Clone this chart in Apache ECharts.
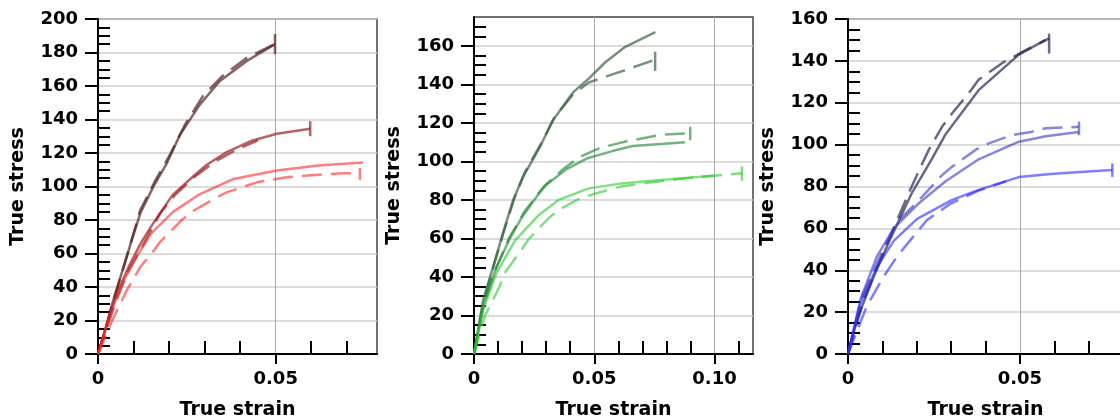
<!DOCTYPE html>
<html>
<head>
<meta charset="utf-8">
<script src="https://cdn.jsdelivr.net/npm/echarts@6/dist/echarts.min.js"></script>
<style>
  html, body { margin: 0; padding: 0; background: #fff; }
  #chart { width: 1120px; height: 420px; }
</style>
</head>
<body>
<div id="chart"></div>
<script>
// ---- data: [strain, stress] ----
// panel 1 (red)
const redSolidA = [[0,0],[0.002,14],[0.004,30],[0.0072,52],[0.0095,68],[0.0119,84],[0.0156,100],[0.0194,114],[0.0231,131],[0.0287,149],[0.0343,163],[0.0419,175],[0.0498,185]]
const redDashA = [[0,0],[0.002,14],[0.0045,33],[0.0078,56],[0.0119,86],[0.016,103],[0.0205,120],[0.0245,137],[0.0295,154],[0.035,166],[0.042,177],[0.0498,185]]
const redSolidB = [[0,0],[0.0025,18],[0.0053,36],[0.0086,52],[0.012,66],[0.0155,78],[0.021,95],[0.0273,107],[0.0306,113],[0.0362,120.5],[0.0428,127],[0.0503,131.5],[0.0597,134.5]]
const redDashB = [[0,0],[0.0025,16],[0.0055,34],[0.0086,50],[0.0124,64],[0.0175,84],[0.0217,95],[0.0273,106],[0.033,115],[0.039,122],[0.045,127.5]]
const redSolidC = [[0,0],[0.003,21],[0.0065,41],[0.0114,60],[0.015,72],[0.0212,85],[0.0287,95.5],[0.0381,104.5],[0.0503,109.5],[0.062,112.5],[0.0746,114.3]]
const redDashC = [[0,0],[0.004,20],[0.0081,38],[0.0119,52],[0.0151,60],[0.0175,67],[0.0236,80],[0.0264,85],[0.0334,93.5],[0.0362,96.5],[0.0447,102.5],[0.048,103.8],[0.053,105.5],[0.06,106.7],[0.069,107.9],[0.0737,108]]
// end bars: [strain, low, high]
const redBars = [[0.0498,179,191],[0.0597,130,139],[0.0737,104,111]]

// panel 2 (green)
const greenSolidA = [[0,0],[0.0038,28],[0.0079,45],[0.0121,63],[0.0163,80],[0.0204,92],[0.0274,107.5],[0.0329,121.5],[0.0413,136],[0.0477,143],[0.0546,151.5],[0.0629,159.5],[0.0754,167.2]]
const greenDashA = [[0,0],[0.004,27],[0.0082,46],[0.0125,64],[0.0168,81],[0.021,94],[0.028,109.5],[0.0335,123],[0.0413,135],[0.0477,141],[0.0588,145.7],[0.0629,147.4],[0.0748,152.6]]
const greenSolidB = [[0,0],[0.0038,25],[0.0093,45],[0.0149,60],[0.0199,71],[0.0268,83],[0.0302,88],[0.0385,96],[0.0468,101.5],[0.0579,105.5],[0.066,108],[0.0878,110]]
const greenDashB = [[0,0],[0.0038,24],[0.009,44],[0.0145,60],[0.021,74],[0.029,87],[0.0375,96.5],[0.0441,102.4],[0.0524,107],[0.0635,110.5],[0.0788,114],[0.0899,114.6]]
const greenSolidC = [[0,0],[0.0038,23],[0.0093,42],[0.0171,59],[0.0268,72],[0.0352,80],[0.0477,86],[0.0615,88.6],[0.069,89.5],[0.0857,91.2],[0.0996,92.5]]
const greenDashC = [[0,0],[0.0046,20],[0.0108,35.5],[0.0122,41],[0.0199,54.4],[0.0227,59.6],[0.031,70.5],[0.0352,74.8],[0.0442,80.9],[0.051,83.5],[0.0607,86.9],[0.076,89.5],[0.094,92],[0.1114,93.8]]
const greenBars = [[0.0753,147,157],[0.0899,111,118],[0.1114,90,97.5]]

// panel 3 (blue)
const blueSolidA = [[0,0],[0.0026,16.4],[0.0075,37],[0.0123,55],[0.0186,77],[0.024,92],[0.0284,105],[0.038,126],[0.0497,143],[0.0575,150]]
const blueDashA = [[0,0],[0.0046,26],[0.0094,45],[0.0143,64],[0.0177,77],[0.0216,91],[0.0235,97.5],[0.0274,108.6],[0.0303,115],[0.0351,124.5],[0.038,131],[0.0449,139],[0.051,144.5],[0.0585,150.8]]
const blueSolidB = [[0,0],[0.0036,26],[0.0084,46.6],[0.0133,60],[0.0206,72],[0.0284,82.5],[0.038,93],[0.0497,101.4],[0.0575,104],[0.0672,106]]
const blueDashB = [[0,0],[0.004,27],[0.0094,47],[0.0143,63],[0.0216,75.2],[0.0274,85.5],[0.0303,89.5],[0.0371,97.5],[0.04,100],[0.0478,104.6],[0.0536,106.2],[0.0575,107.8],[0.0672,108.5]]
const blueSolidC = [[0,0],[0.0036,24],[0.0084,41.5],[0.0133,54],[0.0201,64.5],[0.0303,73.6],[0.038,78.4],[0.0497,84.5],[0.0589,86],[0.0687,87.1],[0.0769,87.9]]
const blueDashC = [[0,0],[0.0055,23],[0.0104,37],[0.0143,46.6],[0.0182,54.5],[0.023,64],[0.03,72],[0.038,78],[0.046,82.5]]
const blueBars = [[0.0585,143.5,153],[0.0672,104.5,111],[0.0769,84.6,91]]

// tick values
const xTicks1 = [0, 0.05]
const xTicks2 = [0, 0.05, 0.10]
const xTicks3 = [0, 0.05]
const yTicks1 = [0, 20, 40, 60, 80, 100, 120, 140, 160, 180, 200]
const yTicks2 = [0, 20, 40, 60, 80, 100, 120, 140, 160]
const yTicks3 = [0, 20, 40, 60, 80, 100, 120, 140, 160]

const FONT = 'DejaVu Sans'

const panels = [
  {
    box: {left: 98, top: 19, width: 279, height: 335}, xMax: 0.0785, yMax: 200,
    xTicks: xTicks1, yTicks: yTicks1,
    curves: [redSolidA, redDashA, redSolidB, redDashB, redSolidC, redDashC],
    bars: redBars,
    colors: ['rgba(85,35,35,0.7)', 'rgba(150,25,25,0.68)', 'rgba(255,45,45,0.62)']
  },
  {
    box: {left: 474, top: 17, width: 279, height: 337}, xMax: 0.116, yMax: 175,
    xTicks: xTicks2, yTicks: yTicks2,
    curves: [greenSolidA, greenDashA, greenSolidB, greenDashB, greenSolidC, greenDashC],
    bars: greenBars,
    colors: ['rgba(60,100,70,0.7)', 'rgba(40,140,55,0.65)', 'rgba(45,200,45,0.6)']
  },
  {
    box: {left: 848, top: 19, width: 275, height: 335}, xMax: 0.08, yMax: 160,
    xTicks: xTicks3, yTicks: yTicks3,
    curves: [blueSolidA, blueDashA, blueSolidB, blueDashB, blueSolidC, blueDashC],
    bars: blueBars,
    colors: ['rgba(40,40,90,0.7)', 'rgba(60,60,200,0.62)', 'rgba(40,40,255,0.6)']
  }
]

const grids = []
const xAxes = []
const yAxes = []
const series = []

panels.forEach((p, i) => {
  grids.push(Object.assign({
    show: true, borderColor: '#444', borderWidth: 1.5, backgroundColor: 'transparent',
    containLabel: false, outerBoundsMode: 'none'
  }, p.box))

  // major x axis with labels
  xAxes.push({
    gridIndex: i, type: 'value', position: 'bottom', min: 0, max: p.xMax, interval: 0.05,
    name: 'True strain', nameLocation: 'middle', nameGap: 47,
    nameTextStyle: {fontFamily: FONT, fontSize: 19, fontWeight: 'bold', color: '#000'},
    axisLine: {onZero: false, lineStyle: {color: '#000', width: 2}},
    axisTick: {length: 10, customValues: p.xTicks, lineStyle: {color: '#000', width: 2}},
    axisLabel: {
      customValues: p.xTicks, margin: 16, fontFamily: FONT, fontSize: 18, fontWeight: 'bold', color: '#000',
      formatter: v => (v === 0 ? '0' : v.toFixed(2))
    },
    splitLine: {show: true, lineStyle: {color: '#a8a8a8', width: 1}}
  })
  // inside minor ticks
  xAxes.push({
    gridIndex: i, type: 'value', position: 'bottom', min: 0, max: p.xMax, interval: 0.05,
    axisLine: {show: false, onZero: false},
    axisTick: {show: false, inside: true},
    minorTick: {show: true, splitNumber: 5, length: 13, lineStyle: {color: '#000', width: 2}},
    axisLabel: {show: false},
    splitLine: {show: false}
  })

  yAxes.push({
    gridIndex: i, type: 'value', position: 'left', min: 0, max: p.yMax, interval: 20,
    name: 'True stress', nameLocation: 'middle', nameGap: 70,
    nameTextStyle: {fontFamily: FONT, fontSize: 19, fontWeight: 'bold', color: '#000'},
    axisLine: {onZero: false, lineStyle: {color: '#000', width: 2}},
    axisTick: {length: 13, customValues: p.yTicks, lineStyle: {color: '#000', width: 2}},
    axisLabel: {customValues: p.yTicks, margin: 20, fontFamily: FONT, fontSize: 18, fontWeight: 'bold', color: '#000'},
    splitLine: {show: true, lineStyle: {color: '#cfcfcf', width: 1.5}}
  })
  yAxes.push({
    gridIndex: i, type: 'value', position: 'left', min: 0, max: p.yMax, interval: 20,
    axisLine: {show: false, onZero: false},
    axisTick: {show: false, inside: true},
    minorTick: {show: true, splitNumber: 4, length: 12, lineStyle: {color: '#000', width: 2}},
    axisLabel: {show: false},
    splitLine: {show: false}
  })

  p.curves.forEach((data, k) => {
    series.push({
      type: 'line', xAxisIndex: 2 * i, yAxisIndex: 2 * i, data: data,
      symbol: 'none', silent: true, clip: false,
      lineStyle: {color: p.colors[Math.floor(k / 2)], width: 2.5, type: k % 2 ? [20, 9] : 'solid'}
    })
  })
  p.bars.forEach((b, k) => {
    series.push({
      type: 'line', xAxisIndex: 2 * i, yAxisIndex: 2 * i, data: [[b[0], b[1]], [b[0], b[2]]],
      symbol: 'none', silent: true, clip: false,
      lineStyle: {color: p.colors[k], width: 2.5}
    })
  })
})

const myChart = echarts.init(document.getElementById('chart'))
myChart.setOption({
  animation: false,
  textStyle: {fontFamily: FONT},
  grid: grids,
  xAxis: xAxes,
  yAxis: yAxes,
  series: series
})
</script>
</body>
</html>
